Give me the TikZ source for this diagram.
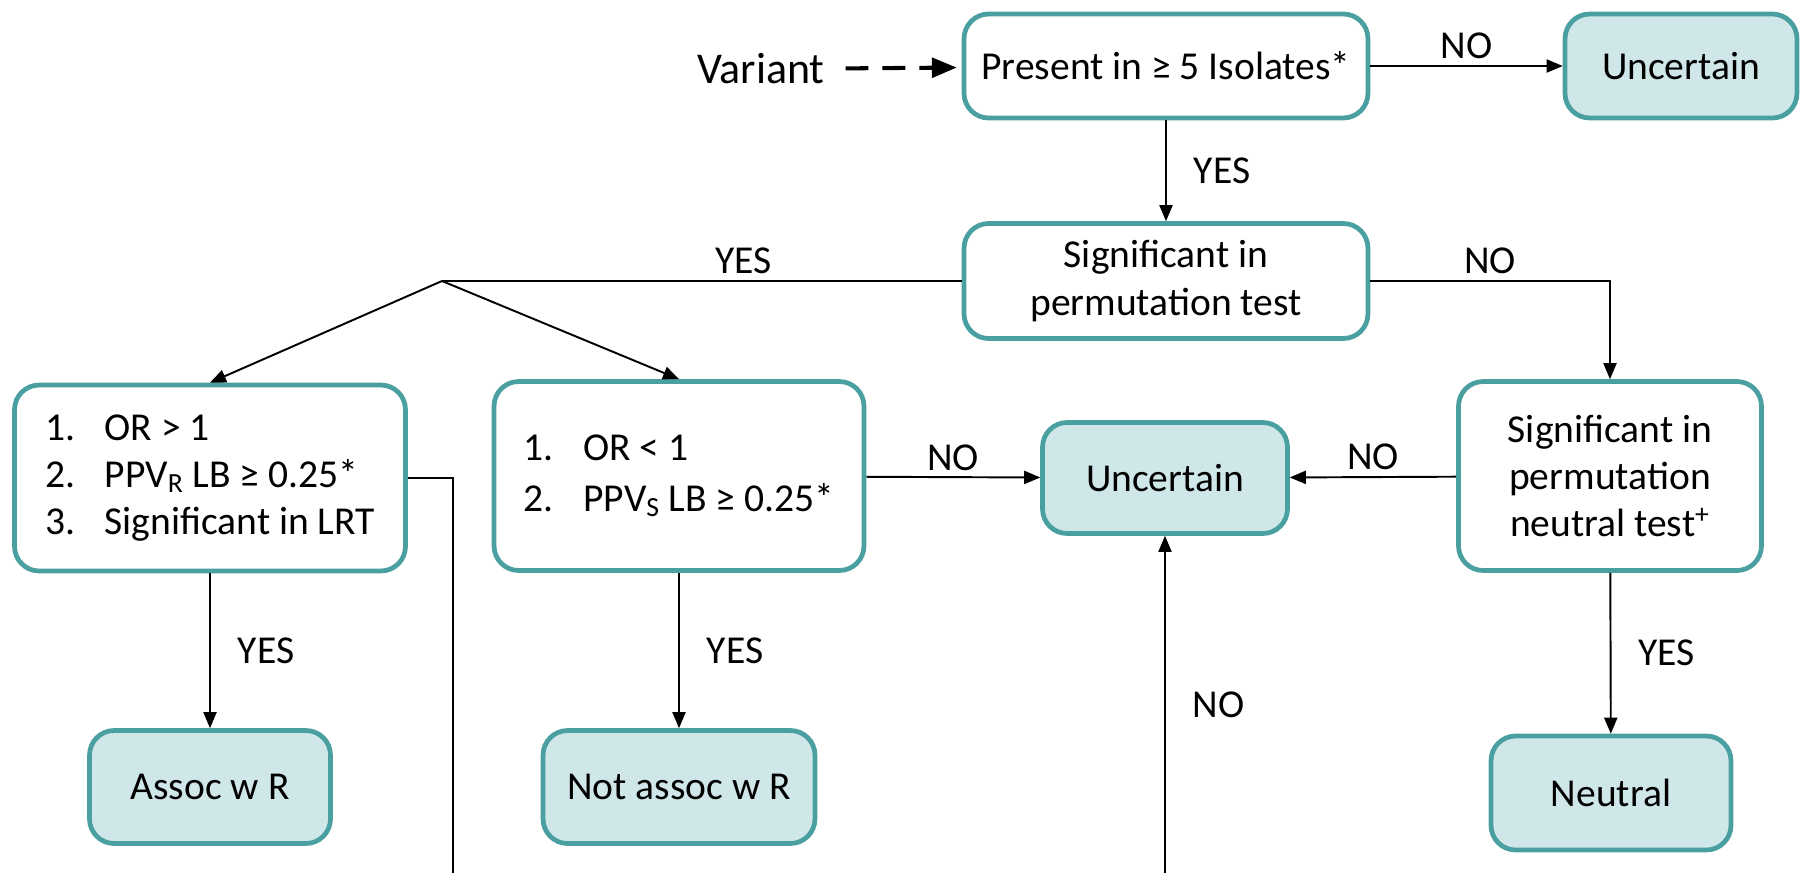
\documentclass[tikz,border=0pt]{standalone}
\usepackage{fontspec}
\setmainfont{Carlito}
\usepackage{tikz}
\usetikzlibrary{arrows}
\definecolor{tealline}{HTML}{4A9FA0}
\definecolor{tealfill}{HTML}{D0E7E9}

\begin{document}
\begin{tikzpicture}[x=0.02cm, y=-0.02cm, >=triangle 45]
\tikzstyle{every node}=[font=\fontsize{22.5}{27}\selectfont];
\tikzstyle{every path}=[line width=1.1pt];
\tikzstyle{decision}=[draw=tealline, line width=2.7pt, rounded corners=14pt, fill=white, align=center, inner sep=0pt];
\tikzstyle{outcome}=[decision, fill=tealfill];
\useasboundingbox (0,0) rectangle (1800,873);
\path (761,69) node[font=\fontsize{25}{30}\selectfont] (variant) {Variant};
\path (1166,66) node[decision, minimum width=8.08cm, minimum height=2.08cm] (present) {Present in ≥ 5 Isolates*};
\path (1681,66) node[outcome, minimum width=4.64cm, minimum height=2.08cm] (uncertA) {Uncertain};
\path (1166,281) node[decision, minimum width=8.08cm, minimum height=2.3cm] (perm) {Significant in\\permutation test};
\path (210,478) node[decision, align=left, minimum width=7.82cm, minimum height=3.72cm] (orhigh) {\makebox[34pt][l]{1.}OR > 1\\\makebox[34pt][l]{2.}PPV\textsubscript{R} LB ≥ 0.25*\\\makebox[34pt][l]{3.}Significant in LRT};
\path (679,476) node[decision, align=left, minimum width=7.4cm, minimum height=3.78cm] (orlow) {\makebox[34pt][l]{1.}OR < 1\\[2pt]\makebox[34pt][l]{2.}PPV\textsubscript{S} LB ≥ 0.25*};
\path (1165,478) node[outcome, minimum width=4.9cm, minimum height=2.22cm] (uncertB) {Uncertain};
\path (1610,476) node[decision, minimum width=6.06cm, minimum height=3.78cm] (neutraltest) {Significant in\\permutation\\neutral test\textsuperscript{+}};
\path (210,787) node[outcome, minimum width=4.82cm, minimum height=2.26cm] (assoc) {Assoc w R};
\path (679,787) node[outcome, minimum width=5.44cm, minimum height=2.26cm] (notassoc) {Not assoc w R};
\path (1611,793) node[outcome, minimum width=4.8cm, minimum height=2.28cm] (neutral) {Neutral};
\coordinate (split) at (442,281);
\coordinate (downend) at (453,873);
\coordinate (upstart) at (1165,873);
\draw[->, line width=2.3pt, dash pattern=on 13pt off 8pt, shorten <=8pt, shorten >=3pt] (variant) -- (present);
\draw[->] (present) -- node[above] {NO} (uncertA);
\draw[->] (present) -- node[right=12pt] {YES} (perm);
\draw (perm) -- node[above, pos=0.42] {YES} (split);
\draw[->] (split) -- (orhigh.north);
\draw[->] (split) -- (orlow.north);
\draw[->] (perm.east) -| node[above, pos=0.25] {NO} (neutraltest.north);
\draw[->] (orlow) -- node[above] {NO} (uncertB);
\draw[->] (neutraltest) -- node[above] {NO} (uncertB);
\draw (orhigh.east) -| (downend);
\draw[->] (upstart) -- node[right=12pt] {NO} (uncertB);
\draw[->] (orhigh) -- node[right=12pt] {YES} (assoc);
\draw[->] (orlow) -- node[right=12pt] {YES} (notassoc);
\draw[->] (neutraltest) -- node[right=12pt] {YES} (neutral);
\end{tikzpicture}
\end{document}
